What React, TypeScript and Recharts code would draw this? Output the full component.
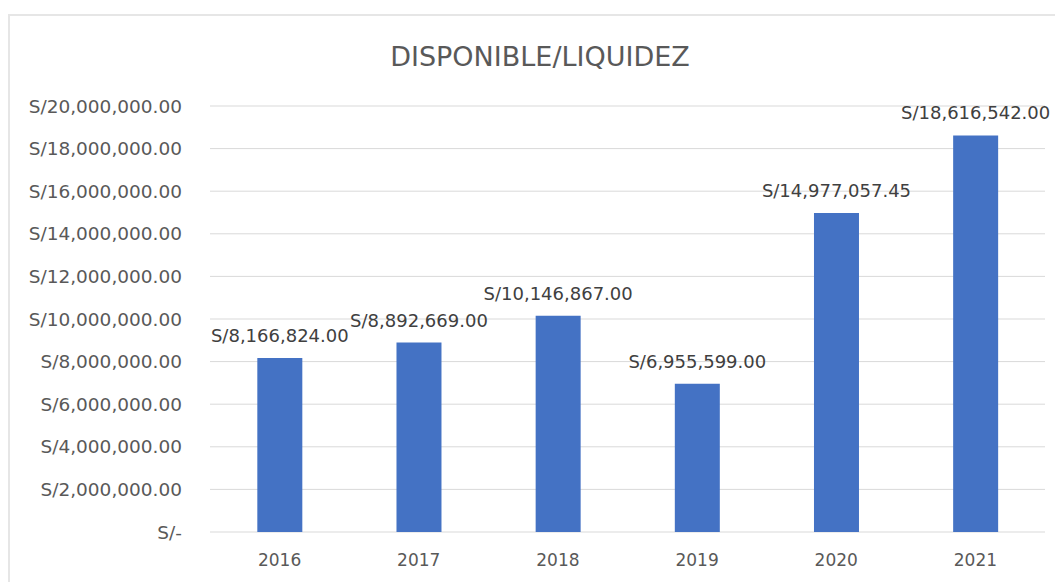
import React from "react";
import { BarChart, Bar, XAxis, YAxis, CartesianGrid, LabelList } from "recharts";

const years = ["2016", "2017", "2018", "2019", "2020", "2021"];
const disponible = [8166824, 8892669, 10146867, 6955599, 14977057.45, 18616542];
const yTicks = [0, 2000000, 4000000, 6000000, 8000000, 10000000, 12000000, 14000000, 16000000, 18000000, 20000000];

const data = years.map((year, i) => ({ year, value: disponible[i] }));

const FONT = '"DejaVu Sans", sans-serif';

const soles = (v: number) =>
  v === 0
    ? "S/-"
    : "S/" + v.toLocaleString("en-US", { minimumFractionDigits: 2, maximumFractionDigits: 2 });

const App = () => {
  return (
    <div
      style={{
        position: "absolute",
        left: 8,
        top: 14,
        width: 1047,
        height: 568,
        borderTop: "2px solid #e6e6e6",
        borderLeft: "2px solid #e6e6e6",
        background: "#fff",
        fontFamily: FONT,
      }}
    >
      {/* Title */}
      <div
        style={{
          position: "absolute",
          left: 530,
          top: 25,
          transform: "translateX(-50%)",
          fontSize: 27,
          color: "#595959",
          whiteSpace: "nowrap",
        }}
      >
        DISPONIBLE/LIQUIDEZ
      </div>

      <BarChart
        width={1045}
        height={566}
        data={data}
        margin={{ top: 90, right: 10, left: 0, bottom: 20 }}
        barCategoryGap="34%"
      >
        <CartesianGrid vertical={false} stroke="#d9d9d9" />
        <XAxis
          dataKey="year"
          axisLine={false}
          tickLine={false}
          tickMargin={16}
          tick={{ fill: "#595959", fontSize: 17, fontFamily: FONT }}
        />
        <YAxis
          width={200}
          domain={[0, 20000000]}
          ticks={yTicks}
          axisLine={false}
          tickLine={false}
          tickMargin={22}
          tickFormatter={soles}
          tick={{ fill: "#595959", fontSize: 18.5, fontFamily: FONT }}
        />
        <Bar dataKey="value" fill="#4472C4" isAnimationActive={false}>
          <LabelList
            dataKey="value"
            position="top"
            offset={16}
            formatter={(v: any) => soles(Number(v))}
            style={{ fill: "#404040", fontSize: 18, fontFamily: FONT }}
          />
        </Bar>
      </BarChart>
    </div>
  );
};

export default App;
